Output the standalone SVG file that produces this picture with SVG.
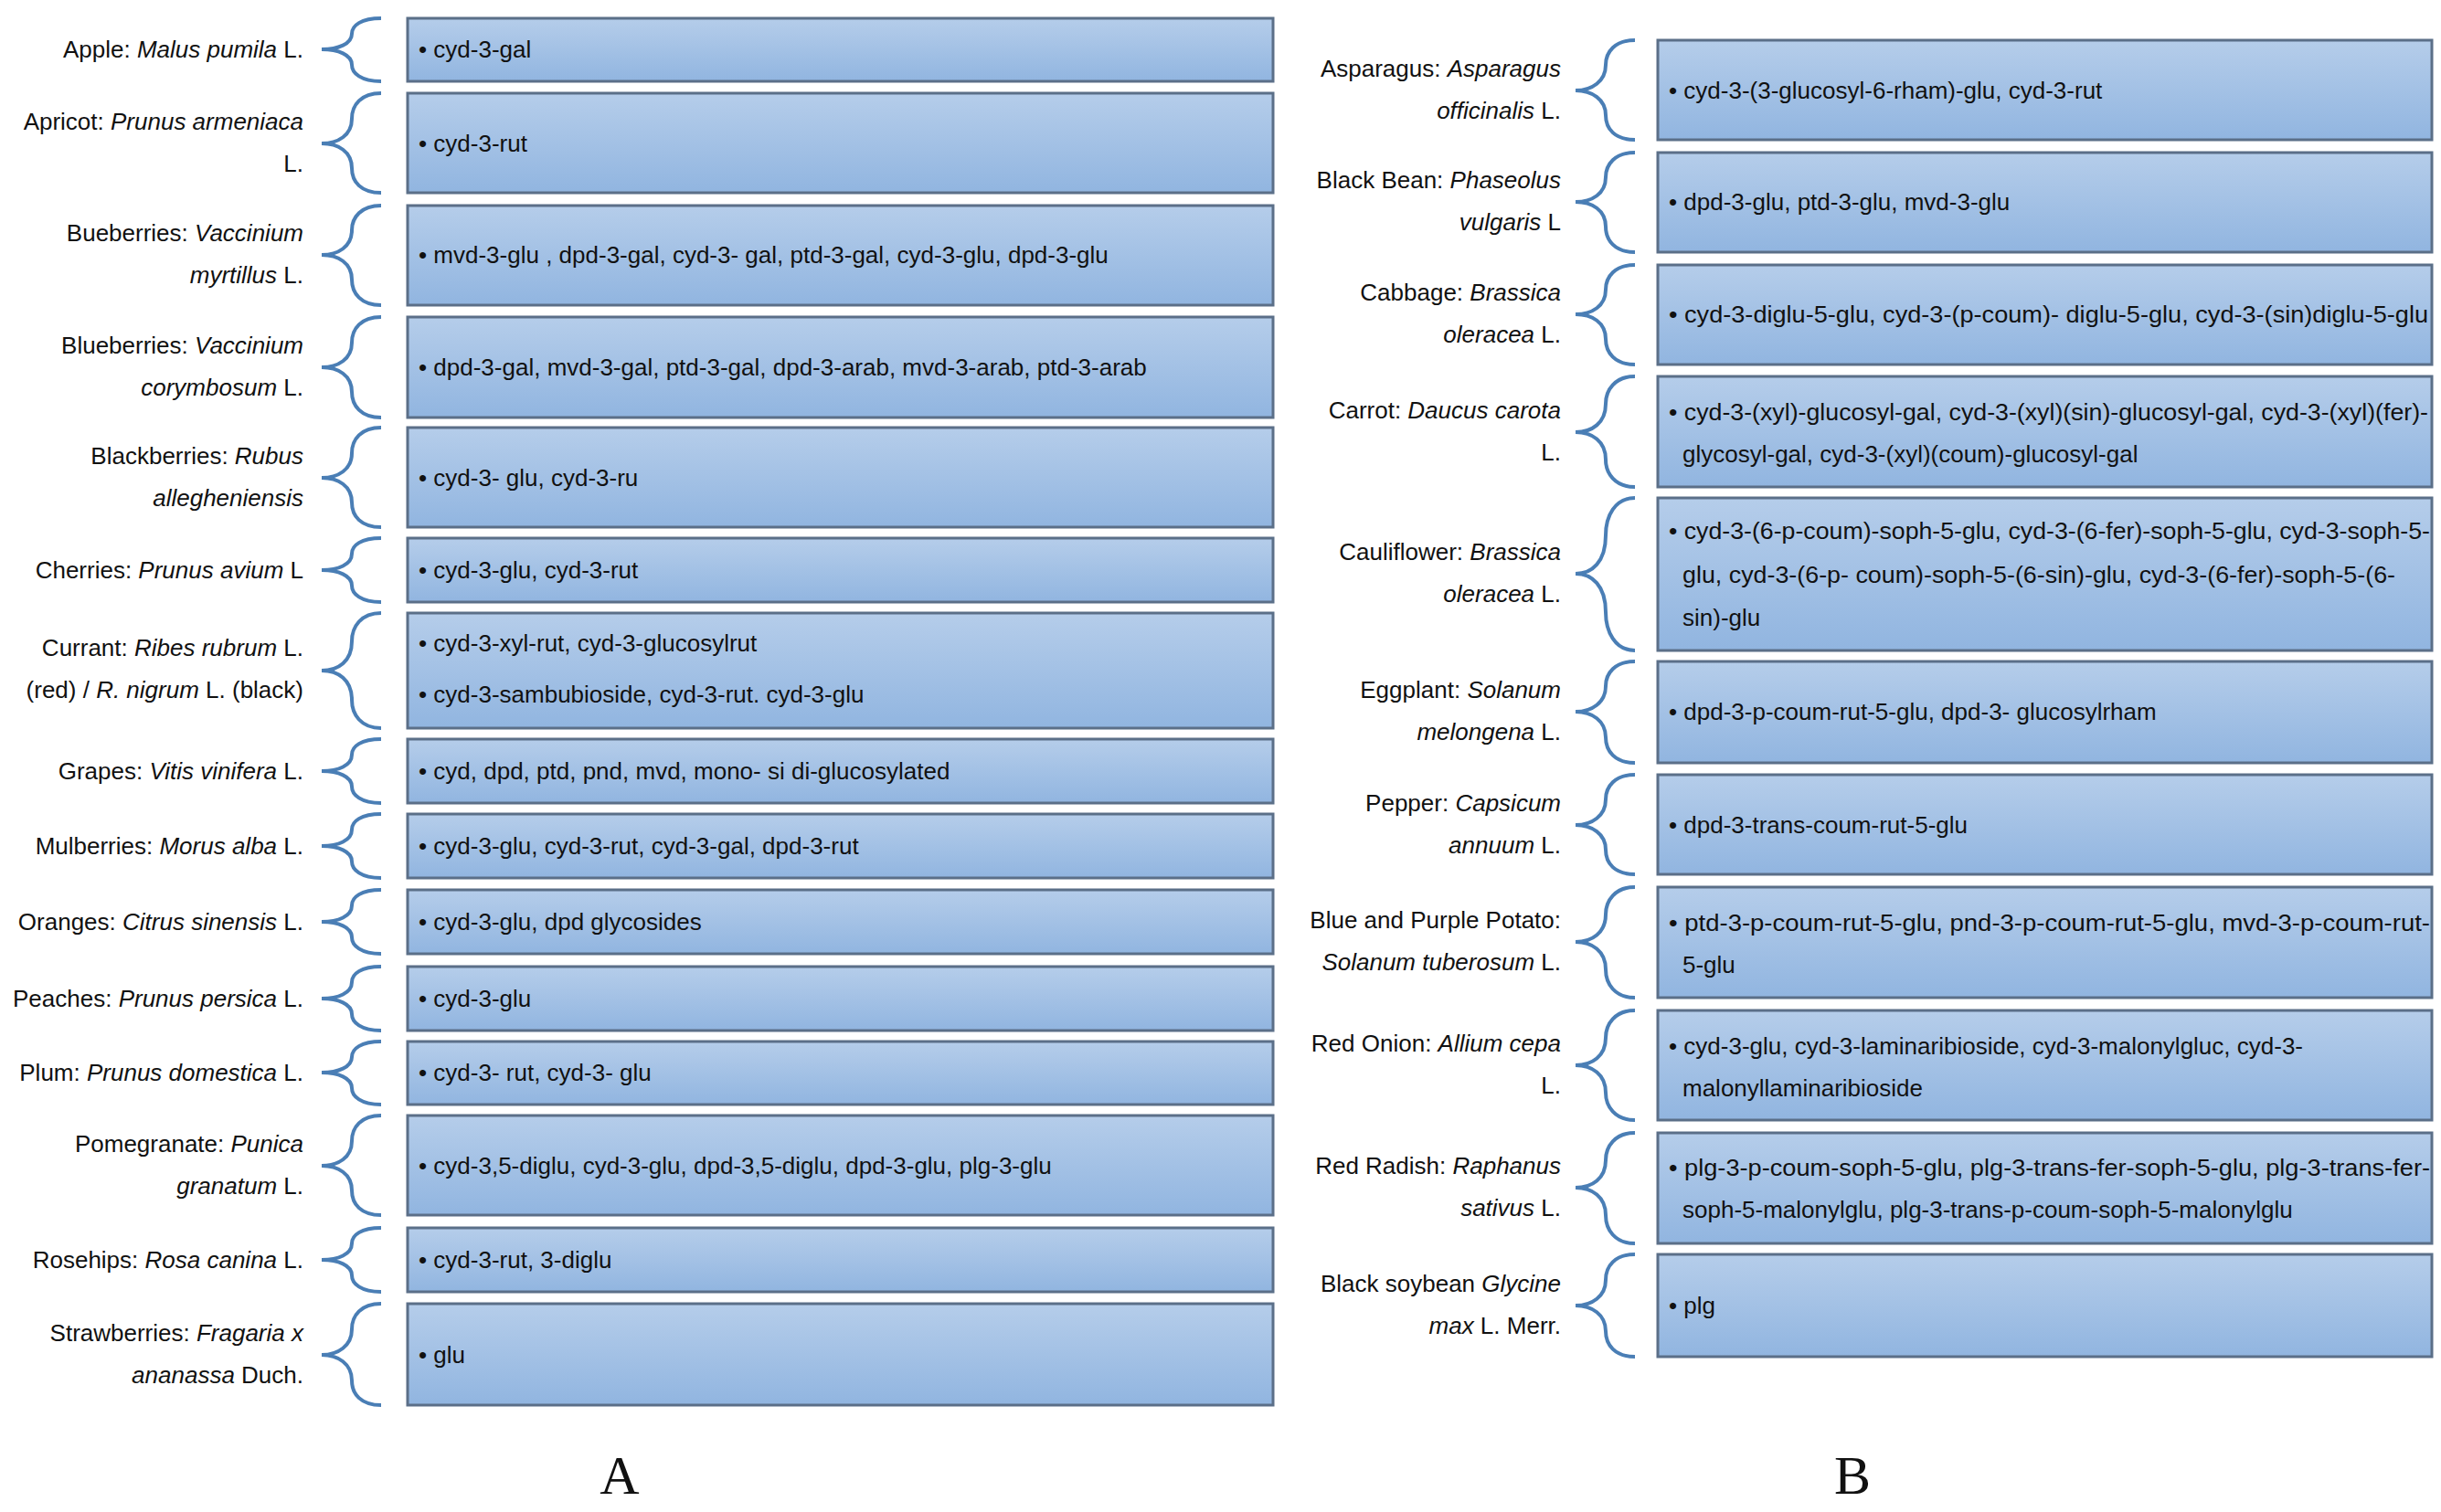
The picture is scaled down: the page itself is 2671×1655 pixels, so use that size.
<svg xmlns="http://www.w3.org/2000/svg" width="2671" height="1655" viewBox="0 0 2671 1655">
<defs>
<linearGradient id="g" x1="0" y1="0" x2="0" y2="1"><stop offset="0" stop-color="#b5cdea"/><stop offset="1" stop-color="#91b5e0"/></linearGradient>
<style>
.b{fill:url(#g);stroke:#5b6f88;stroke-width:3}
.br{fill:none;stroke:#4a7eb5;stroke-width:4}
text{font-family:"Liberation Sans Narrow","Liberation Sans",Arial,sans-serif;font-size:26px;fill:#111}
.l{text-anchor:end}
.i{font-style:italic}
.big{font-family:"Liberation Serif",serif;font-size:60px;text-anchor:middle}
</style>
</defs>
<rect width="2671" height="1655" fill="#fff"/>
<g id="connectors">
<path class="br" d="M417,20 C395,20 385,28 385,37 C385,48 370,54 352,54 C370,54 385,60 385,71 C385,80 395,89 417,89"/>
<path class="br" d="M417,102 C395,102 385,115 385,130 C385,148 370,157 352,157 C370,157 385,166 385,184 C385,199 395,211 417,211"/>
<path class="br" d="M417,225 C395,225 385,238 385,252 C385,270 370,279 352,279 C370,279 385,288 385,306 C385,321 395,334 417,334"/>
<path class="br" d="M417,347 C395,347 385,360 385,375 C385,393 370,402 352,402 C370,402 385,411 385,429 C385,444 395,457 417,457"/>
<path class="br" d="M417,468 C395,468 385,481 385,496 C385,514 370,523 352,523 C370,523 385,532 385,550 C385,565 395,577 417,577"/>
<path class="br" d="M417,589 C395,589 385,597 385,606 C385,618 370,624 352,624 C370,624 385,630 385,641 C385,650 395,659 417,659"/>
<path class="br" d="M417,671 C395,671 385,686 385,702 C385,724 370,734 352,734 C370,734 385,744 385,766 C385,782 395,797 417,797"/>
<path class="br" d="M417,809 C395,809 385,817 385,826 C385,838 370,844 352,844 C370,844 385,850 385,861 C385,870 395,879 417,879"/>
<path class="br" d="M417,891 C395,891 385,899 385,908 C385,920 370,926 352,926 C370,926 385,932 385,943 C385,952 395,961 417,961"/>
<path class="br" d="M417,974 C395,974 385,982 385,991 C385,1003 370,1009 352,1009 C370,1009 385,1015 385,1026 C385,1035 395,1044 417,1044"/>
<path class="br" d="M417,1058 C395,1058 385,1066 385,1075 C385,1087 370,1093 352,1093 C370,1093 385,1099 385,1110 C385,1119 395,1128 417,1128"/>
<path class="br" d="M417,1140 C395,1140 385,1148 385,1157 C385,1168 370,1174 352,1174 C370,1174 385,1180 385,1191 C385,1200 395,1209 417,1209"/>
<path class="br" d="M417,1221 C395,1221 385,1234 385,1249 C385,1267 370,1276 352,1276 C370,1276 385,1285 385,1303 C385,1318 395,1330 417,1330"/>
<path class="br" d="M417,1344 C395,1344 385,1352 385,1361 C385,1373 370,1379 352,1379 C370,1379 385,1385 385,1396 C385,1405 395,1414 417,1414"/>
<path class="br" d="M417,1427 C395,1427 385,1440 385,1455 C385,1473 370,1483 352,1483 C370,1483 385,1493 385,1511 C385,1526 395,1538 417,1538"/>
<path class="br" d="M1789,44 C1767,44 1757,57 1757,71 C1757,89 1742,99 1724,99 C1742,99 1757,109 1757,126 C1757,141 1767,153 1789,153"/>
<path class="br" d="M1789,167 C1767,167 1757,180 1757,194 C1757,212 1742,221 1724,221 C1742,221 1757,230 1757,248 C1757,263 1767,276 1789,276"/>
<path class="br" d="M1789,290 C1767,290 1757,303 1757,317 C1757,335 1742,344 1724,344 C1742,344 1757,353 1757,371 C1757,386 1767,399 1789,399"/>
<path class="br" d="M1789,412 C1767,412 1757,427 1757,442 C1757,463 1742,473 1724,473 C1742,473 1757,483 1757,503 C1757,518 1767,533 1789,533"/>
<path class="br" d="M1789,545 C1767,545 1757,565 1757,586 C1757,615 1742,628 1724,628 C1742,628 1757,641 1757,670 C1757,691 1767,712 1789,712"/>
<path class="br" d="M1789,724 C1767,724 1757,737 1757,751 C1757,769 1742,779 1724,779 C1742,779 1757,789 1757,807 C1757,822 1767,835 1789,835"/>
<path class="br" d="M1789,848 C1767,848 1757,861 1757,875 C1757,893 1742,903 1724,903 C1742,903 1757,913 1757,930 C1757,945 1767,957 1789,957"/>
<path class="br" d="M1789,971 C1767,971 1757,986 1757,1001 C1757,1021 1742,1031 1724,1031 C1742,1031 1757,1041 1757,1061 C1757,1077 1767,1092 1789,1092"/>
<path class="br" d="M1789,1106 C1767,1106 1757,1121 1757,1136 C1757,1156 1742,1166 1724,1166 C1742,1166 1757,1176 1757,1196 C1757,1211 1767,1226 1789,1226"/>
<path class="br" d="M1789,1240 C1767,1240 1757,1255 1757,1270 C1757,1290 1742,1300 1724,1300 C1742,1300 1757,1310 1757,1330 C1757,1346 1767,1361 1789,1361"/>
<path class="br" d="M1789,1373 C1767,1373 1757,1386 1757,1401 C1757,1419 1742,1429 1724,1429 C1742,1429 1757,1439 1757,1457 C1757,1472 1767,1485 1789,1485"/>
</g>
<g id="left-boxes">
<g id="n1"><rect class="b" x="446" y="20" width="947" height="69"/><text x="458" y="63">• cyd-3-gal</text><text class="l" x="332" y="63">Apple: <tspan class="i">Malus pumila</tspan> L.</text></g>
<g id="n2"><rect class="b" x="446" y="102" width="947" height="109"/><text x="458" y="166">• cyd-3-rut</text><text class="l" x="332" y="142">Apricot: <tspan class="i">Prunus armeniaca</tspan></text><text class="l" x="332" y="188">L.</text></g>
<g id="n3"><rect class="b" x="446" y="225" width="947" height="109"/><text x="458" y="288">• mvd-3-glu , dpd-3-gal, cyd-3- gal, ptd-3-gal, cyd-3-glu, dpd-3-glu</text><text class="l" x="332" y="264">Bueberries: <tspan class="i">Vaccinium</tspan></text><text class="l" x="332" y="310"><tspan class="i">myrtillus</tspan> L.</text></g>
<g id="n4"><rect class="b" x="446" y="347" width="947" height="110"/><text x="458" y="411">• dpd-3-gal, mvd-3-gal, ptd-3-gal, dpd-3-arab, mvd-3-arab, ptd-3-arab</text><text class="l" x="332" y="387">Blueberries: <tspan class="i">Vaccinium</tspan></text><text class="l" x="332" y="433"><tspan class="i">corymbosum</tspan> L.</text></g>
<g id="n5"><rect class="b" x="446" y="468" width="947" height="109"/><text x="458" y="532">• cyd-3- glu, cyd-3-ru</text><text class="l" x="332" y="508">Blackberries: <tspan class="i">Rubus</tspan></text><text class="l" x="332" y="554"><tspan class="i">allegheniensis</tspan></text></g>
<g id="n6"><rect class="b" x="446" y="589" width="947" height="70"/><text x="458" y="633">• cyd-3-glu, cyd-3-rut</text><text class="l" x="332" y="633">Cherries: <tspan class="i">Prunus avium</tspan> L</text></g>
<g id="n7"><rect class="b" x="446" y="671" width="947" height="126"/><text x="458" y="713">• cyd-3-xyl-rut, cyd-3-glucosylrut</text><text x="458" y="769">• cyd-3-sambubioside, cyd-3-rut. cyd-3-glu</text><text class="l" x="332" y="718">Currant: <tspan class="i">Ribes rubrum</tspan> L.</text><text class="l" x="332" y="764">(red) / <tspan class="i">R. nigrum</tspan> L. (black)</text></g>
<g id="n8"><rect class="b" x="446" y="809" width="947" height="70"/><text x="458" y="853">• cyd, dpd, ptd, pnd, mvd, mono- si di-glucosylated</text><text class="l" x="332" y="853">Grapes: <tspan class="i">Vitis vinifera</tspan> L.</text></g>
<g id="n9"><rect class="b" x="446" y="891" width="947" height="70"/><text x="458" y="935">• cyd-3-glu, cyd-3-rut, cyd-3-gal, dpd-3-rut</text><text class="l" x="332" y="935">Mulberries: <tspan class="i">Morus alba</tspan> L.</text></g>
<g id="n10"><rect class="b" x="446" y="974" width="947" height="70"/><text x="458" y="1018">• cyd-3-glu, dpd glycosides</text><text class="l" x="332" y="1018">Oranges: <tspan class="i">Citrus sinensis</tspan> L.</text></g>
<g id="n11"><rect class="b" x="446" y="1058" width="947" height="70"/><text x="458" y="1102">• cyd-3-glu</text><text class="l" x="332" y="1102">Peaches: <tspan class="i">Prunus persica</tspan> L.</text></g>
<g id="n12"><rect class="b" x="446" y="1140" width="947" height="69"/><text x="458" y="1183">• cyd-3- rut, cyd-3- glu</text><text class="l" x="332" y="1183">Plum: <tspan class="i">Prunus domestica</tspan> L.</text></g>
<g id="n13"><rect class="b" x="446" y="1221" width="947" height="109"/><text x="458" y="1285">• cyd-3,5-diglu, cyd-3-glu, dpd-3,5-diglu, dpd-3-glu, plg-3-glu</text><text class="l" x="332" y="1261">Pomegranate: <tspan class="i">Punica</tspan></text><text class="l" x="332" y="1307"><tspan class="i">granatum</tspan> L.</text></g>
<g id="n14"><rect class="b" x="446" y="1344" width="947" height="70"/><text x="458" y="1388">• cyd-3-rut, 3-diglu</text><text class="l" x="332" y="1388">Rosehips: <tspan class="i">Rosa canina</tspan> L.</text></g>
<g id="n15"><rect class="b" x="446" y="1427" width="947" height="111"/><text x="458" y="1492">• glu</text><text class="l" x="332" y="1468">Strawberries: <tspan class="i">Fragaria x</tspan></text><text class="l" x="332" y="1514"><tspan class="i">ananassa</tspan> Duch.</text></g>
</g>
<g id="right-boxes">
<g id="m1"><rect class="b" x="1814" y="44" width="847" height="109"/><text x="1826" y="108">• cyd-3-(3-glucosyl-6-rham)-glu, cyd-3-rut</text><text class="l" x="1708" y="84">Asparagus: <tspan class="i">Asparagus</tspan></text><text class="l" x="1708" y="130"><tspan class="i">officinalis</tspan> L.</text></g>
<g id="m2"><rect class="b" x="1814" y="167" width="847" height="109"/><text x="1826" y="230">• dpd-3-glu, ptd-3-glu, mvd-3-glu</text><text class="l" x="1708" y="206">Black Bean: <tspan class="i">Phaseolus</tspan></text><text class="l" x="1708" y="252"><tspan class="i">vulgaris</tspan> L</text></g>
<g id="m3"><rect class="b" x="1814" y="290" width="847" height="109"/><text x="1826" y="353" textLength="831" lengthAdjust="spacingAndGlyphs">• cyd-3-diglu-5-glu, cyd-3-(p-coum)- diglu-5-glu, cyd-3-(sin)diglu-5-glu</text><text class="l" x="1708" y="329">Cabbage: <tspan class="i">Brassica</tspan></text><text class="l" x="1708" y="375"><tspan class="i">oleracea</tspan> L.</text></g>
<g id="m4"><rect class="b" x="1814" y="412" width="847" height="121"/><text x="1826" y="460" textLength="831" lengthAdjust="spacingAndGlyphs">• cyd-3-(xyl)-glucosyl-gal, cyd-3-(xyl)(sin)-glucosyl-gal, cyd-3-(xyl)(fer)-</text><text x="1841" y="506">glycosyl-gal, cyd-3-(xyl)(coum)-glucosyl-gal</text><text class="l" x="1708" y="458">Carrot: <tspan class="i">Daucus carota</tspan></text><text class="l" x="1708" y="504">L.</text></g>
<g id="m5"><rect class="b" x="1814" y="545" width="847" height="167"/><text x="1826" y="590" textLength="833" lengthAdjust="spacingAndGlyphs">• cyd-3-(6-p-coum)-soph-5-glu, cyd-3-(6-fer)-soph-5-glu, cyd-3-soph-5-</text><text x="1841" y="638" textLength="780" lengthAdjust="spacingAndGlyphs">glu, cyd-3-(6-p- coum)-soph-5-(6-sin)-glu, cyd-3-(6-fer)-soph-5-(6-</text><text x="1841" y="685">sin)-glu</text><text class="l" x="1708" y="613">Cauliflower: <tspan class="i">Brassica</tspan></text><text class="l" x="1708" y="659"><tspan class="i">oleracea</tspan> L.</text></g>
<g id="m6"><rect class="b" x="1814" y="724" width="847" height="111"/><text x="1826" y="788">• dpd-3-p-coum-rut-5-glu, dpd-3- glucosylrham</text><text class="l" x="1708" y="764">Eggplant: <tspan class="i">Solanum</tspan></text><text class="l" x="1708" y="810"><tspan class="i">melongena</tspan> L.</text></g>
<g id="m7"><rect class="b" x="1814" y="848" width="847" height="109"/><text x="1826" y="912">• dpd-3-trans-coum-rut-5-glu</text><text class="l" x="1708" y="888">Pepper: <tspan class="i">Capsicum</tspan></text><text class="l" x="1708" y="934"><tspan class="i">annuum</tspan> L.</text></g>
<g id="m8"><rect class="b" x="1814" y="971" width="847" height="121"/><text x="1826" y="1019" textLength="833" lengthAdjust="spacingAndGlyphs">• ptd-3-p-coum-rut-5-glu, pnd-3-p-coum-rut-5-glu, mvd-3-p-coum-rut-</text><text x="1841" y="1065">5-glu</text><text class="l" x="1708" y="1016">Blue and Purple Potato:</text><text class="l" x="1708" y="1062"><tspan class="i">Solanum tuberosum</tspan> L.</text></g>
<g id="m9"><rect class="b" x="1814" y="1106" width="847" height="120"/><text x="1826" y="1154">• cyd-3-glu, cyd-3-laminaribioside, cyd-3-malonylgluc, cyd-3-</text><text x="1841" y="1200">malonyllaminaribioside</text><text class="l" x="1708" y="1151">Red Onion: <tspan class="i">Allium cepa</tspan></text><text class="l" x="1708" y="1197">L.</text></g>
<g id="m10"><rect class="b" x="1814" y="1240" width="847" height="121"/><text x="1826" y="1287" textLength="833" lengthAdjust="spacingAndGlyphs">• plg-3-p-coum-soph-5-glu, plg-3-trans-fer-soph-5-glu, plg-3-trans-fer-</text><text x="1841" y="1333">soph-5-malonylglu, plg-3-trans-p-coum-soph-5-malonylglu</text><text class="l" x="1708" y="1285">Red Radish: <tspan class="i">Raphanus</tspan></text><text class="l" x="1708" y="1331"><tspan class="i">sativus</tspan> L.</text></g>
<g id="m11"><rect class="b" x="1814" y="1373" width="847" height="112"/><text x="1826" y="1438">• plg</text><text class="l" x="1708" y="1414">Black soybean <tspan class="i">Glycine</tspan></text><text class="l" x="1708" y="1460"><tspan class="i">max</tspan> L. Merr.</text></g>
</g>
<text class="big" x="678" y="1635">A</text>
<text class="big" x="2027" y="1635">B</text>
</svg>
